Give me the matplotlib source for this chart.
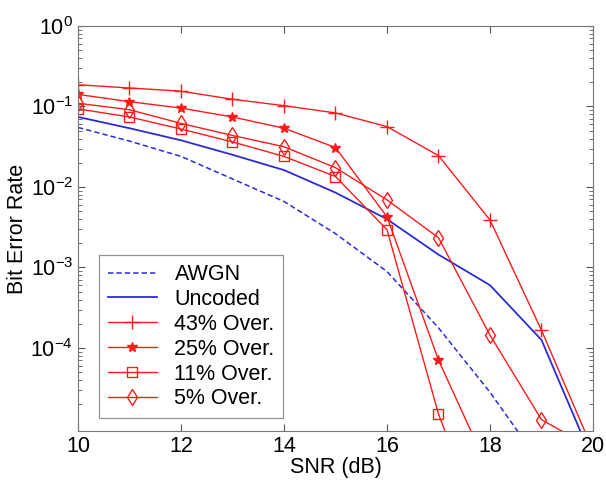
import numpy as np
import matplotlib
matplotlib.use('Agg')
import matplotlib.pyplot as plt
from matplotlib.ticker import LogLocator, NullFormatter, FixedLocator

plt.rcParams['font.family'] = ['Liberation Sans', 'DejaVu Sans']
plt.rcParams['mathtext.fontset'] = 'custom'
plt.rcParams['mathtext.rm'] = 'Liberation Sans'

# SNR (dB)
snr = [10, 11, 12, 13, 14, 15, 16, 17, 18, 19, 20]

# log10 of the bit error rate
awgn_snr = [10, 11, 12, 13, 14, 15, 16, 17, 18, 19]
awgn_log = [-1.26, -1.43, -1.62, -1.90, -2.18, -2.58, -3.05, -3.75, -4.55, -5.45]
uncoded_log = [-1.13, -1.27, -1.42, -1.60, -1.79, -2.07, -2.40, -2.84, -3.22, -3.90, -5.40]
over43_log = [-0.73, -0.77, -0.81, -0.91, -0.99, -1.08, -1.25, -1.61, -2.41, -3.78, -5.27]
over25_snr = [10, 11, 12, 13, 14, 15, 16, 17, 18]
over25_log = [-0.85, -0.94, -1.02, -1.13, -1.27, -1.51, -2.37, -4.15, -5.55]
over11_snr = [10, 11, 12, 13, 14, 15, 16, 17, 18]
over11_log = [-1.03, -1.13, -1.28, -1.44, -1.62, -1.87, -2.53, -4.82, -6.50]
over5_log = [-0.96, -1.04, -1.21, -1.36, -1.50, -1.76, -2.16, -2.63, -3.84, -4.89, -5.25]

def ber(v):
    return 10.0 ** np.array(v)

fig = plt.figure(figsize=(6.06, 4.84), dpi=100)
ax = fig.add_axes([0.1287, 0.1095, 0.8498, 0.8368])

blue = '#2b2bd6'
red = '#ff1a1a'
ax.semilogy(awgn_snr, ber(awgn_log), color=blue, lw=1.1, dashes=(3.5, 2), label='AWGN')
ax.semilogy(snr, ber(uncoded_log), '-', color=blue, lw=1.3, label='Uncoded')
ax.semilogy(snr, ber(over43_log), '-', color=red, lw=1.0, marker='+', ms=10, mew=1.0,
            label='43% Over.')
ax.semilogy(over25_snr, ber(over25_log), '-', color=red, lw=1.0, marker='*', ms=7.5,
            label='25% Over.')
ax.semilogy(over11_snr, ber(over11_log), '-', color=red, lw=1.0, marker='s', ms=7,
            mfc='none', mew=1.0, label='11% Over.')
ax.semilogy(snr, ber(over5_log), '-', color=red, lw=1.0, marker='d', ms=8,
            mfc='none', mew=1.0, label='5% Over.')

ax.set_xlim(10, 20)
ax.set_ylim(9.3e-6, 1)
ax.set_xticks([10, 12, 14, 16, 18, 20])
ax.yaxis.set_major_locator(FixedLocator([1e-4, 1e-3, 1e-2, 1e-1, 1]))
ax.yaxis.set_minor_locator(LogLocator(base=10, subs=np.arange(2, 10), numticks=20))
ax.yaxis.set_minor_formatter(NullFormatter())
ax.tick_params(which='both', direction='in', top=True, right=True, labelsize=15.5,
               color='#555555')
ax.tick_params(which='major', length=5)
ax.tick_params(which='minor', length=3)
for s in ax.spines.values():
    s.set_color('#777777')

ax.set_xlabel('SNR (dB)', fontsize=15.5, labelpad=0)
ax.set_ylabel('Bit Error Rate', fontsize=15.5, labelpad=2)

leg = ax.legend(loc='lower left', bbox_to_anchor=(0.041, 0.032), borderaxespad=0,
                fontsize=15.5, fancybox=False, edgecolor='#777777', handlelength=2.3,
                labelspacing=0.18, borderpad=0.4, handletextpad=0.8)
leg.get_frame().set_linewidth(0.9)

fig.savefig('out.png', dpi=100)
